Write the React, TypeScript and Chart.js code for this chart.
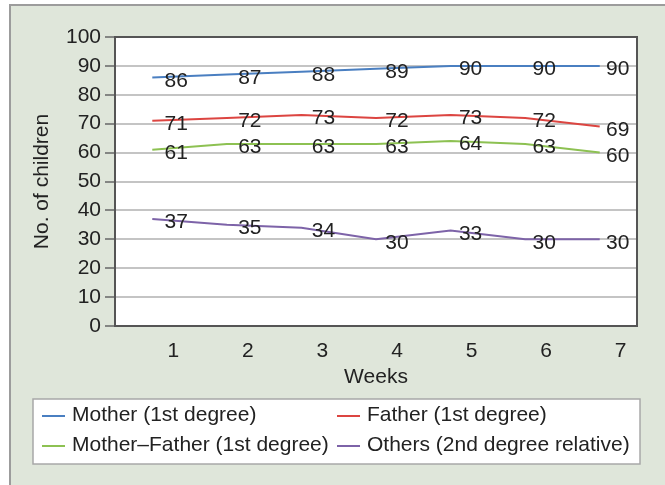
import { useEffect, useRef } from 'react';
import { Chart, registerables } from 'chart.js';

Chart.register(...registerables);

const weeks = ['1', '2', '3', '4', '5', '6', '7'];
const seriesNames = [
  'Mother (1st degree)',
  'Father (1st degree)',
  'Mother–Father (1st degree)',
  'Others (2nd degree relative)',
];
const mother = [86, 87, 88, 89, 90, 90, 90];
const father = [71, 72, 73, 72, 73, 72, 69];
const motherFather = [61, 63, 63, 63, 64, 63, 60];
const others = [37, 35, 34, 30, 33, 30, 30];
const seriesColors = ['#4a7fc1', '#dc4541', '#8dc152', '#7d63a8'];

const FONT = "'Liberation Sans', Arial, sans-serif";
const TEXT = '#222222';

const panelPlugin = {
  id: 'panel',
  beforeDraw(chart: any) {
    const { ctx, chartArea } = chart;
    ctx.save();
    ctx.fillStyle = '#ffffff';
    ctx.fillRect(0, 0, chart.width, chart.height);
    ctx.fillStyle = '#dfe6da';
    ctx.fillRect(10, 5, chart.width - 10, chart.height - 5);
    ctx.strokeStyle = '#9c9c9c';
    ctx.lineWidth = 2;
    ctx.beginPath();
    ctx.moveTo(10, chart.height);
    ctx.lineTo(10, 5);
    ctx.lineTo(chart.width, 5);
    ctx.stroke();
    ctx.fillStyle = '#ffffff';
    ctx.fillRect(chartArea.left, chartArea.top, chartArea.right - chartArea.left, chartArea.bottom - chartArea.top);
    ctx.restore();
  },
  afterDraw(chart: any) {
    const { ctx, chartArea } = chart;
    ctx.save();
    ctx.strokeStyle = '#555555';
    ctx.lineWidth = 2;
    ctx.strokeRect(chartArea.left, chartArea.top, chartArea.right - chartArea.left, chartArea.bottom - chartArea.top);
    ctx.restore();
  },
};

const valueLabelPlugin = {
  id: 'valueLabels',
  afterDatasetsDraw(chart: any) {
    const { ctx } = chart;
    ctx.save();
    ctx.font = `21px ${FONT}`;
    ctx.fillStyle = TEXT;
    ctx.textAlign = 'center';
    ctx.textBaseline = 'middle';
    chart.data.datasets.forEach((ds: any, di: number) => {
      const meta = chart.getDatasetMeta(di);
      meta.data.forEach((pt: any, i: number) => {
        ctx.fillText(String(ds.data[i]), pt.x + 24 - i, pt.y + 3.5);
      });
    });
    ctx.restore();
  },
};

const boxLegendPlugin = {
  id: 'boxLegend',
  afterDraw(chart: any) {
    const { ctx } = chart;
    ctx.save();
    ctx.fillStyle = '#ffffff';
    ctx.fillRect(33, 399, 607, 65);
    ctx.strokeStyle = '#a8a8a8';
    ctx.lineWidth = 1.5;
    ctx.strokeRect(33, 399, 607, 65);
    const cols = [42, 337];
    const rows = [415, 445];
    ctx.font = `21px ${FONT}`;
    ctx.textBaseline = 'middle';
    ctx.textAlign = 'left';
    chart.data.datasets.forEach((ds: any, i: number) => {
      const x = cols[i % 2];
      const y = rows[Math.floor(i / 2)];
      ctx.strokeStyle = ds.borderColor;
      ctx.lineWidth = 2;
      ctx.beginPath();
      ctx.moveTo(x, y + 1);
      ctx.lineTo(x + 23, y + 1);
      ctx.stroke();
      ctx.fillStyle = TEXT;
      ctx.fillText(ds.label, x + 30, y);
    });
    ctx.restore();
  },
};

export default function App() {
  const canvasRef = useRef<HTMLCanvasElement | null>(null);

  useEffect(() => {
    document.body.style.margin = '0';
    const canvas = canvasRef.current;
    if (!canvas) return;
    const seriesValues = [mother, father, motherFather, others];
    const chart = new Chart(canvas, {
      type: 'line',
      data: {
        labels: weeks,
        datasets: seriesValues.map((vals, i) => ({
          label: seriesNames[i],
          data: vals,
          borderColor: seriesColors[i],
          backgroundColor: seriesColors[i],
          borderWidth: 2,
          pointRadius: 0,
          tension: 0,
          fill: false,
        })),
      },
      options: {
        responsive: true,
        maintainAspectRatio: false,
        animation: false,
        layout: { padding: { left: 20, top: 37, right: 28, bottom: 95 } },
        plugins: {
          legend: { display: false },
          tooltip: { enabled: false },
          title: { display: false },
        },
        scales: {
          x: {
            type: 'category',
            offset: true,
            grid: { display: false },
            border: { display: false },
            ticks: {
              font: { family: FONT, size: 21 },
              color: TEXT,
              padding: 5,
              labelOffset: 21,
              maxRotation: 0,
              autoSkip: false,
            },
            title: {
              display: true,
              text: 'Weeks',
              font: { family: FONT, size: 21 },
              color: TEXT,
              padding: { top: 0, bottom: 0 },
            },
            afterFit(scale: any) {
              scale.height = 64;
            },
          },
          y: {
            min: 0,
            max: 100,
            ticks: {
              stepSize: 10,
              font: { family: FONT, size: 21 },
              color: TEXT,
              padding: 4,
            },
            grid: {
              color: '#c4c4c4',
              lineWidth: 2,
              tickLength: 10,
              tickColor: '#666666',
              tickWidth: 1.5,
            },
            border: { display: true, color: '#555555', width: 2 },
            title: {
              display: true,
              text: 'No. of children',
              font: { family: FONT, size: 21 },
              color: TEXT,
              padding: { top: 10, bottom: 0 },
            },
            afterFit(scale: any) {
              scale.width = 95;
            },
          },
        },
      },
      plugins: [panelPlugin, valueLabelPlugin, boxLegendPlugin],
    });
    return () => chart.destroy();
  }, []);

  return (
    <div style={{ position: 'relative', width: '665px', height: '485px' }}>
      <canvas ref={canvasRef} />
    </div>
  );
}
